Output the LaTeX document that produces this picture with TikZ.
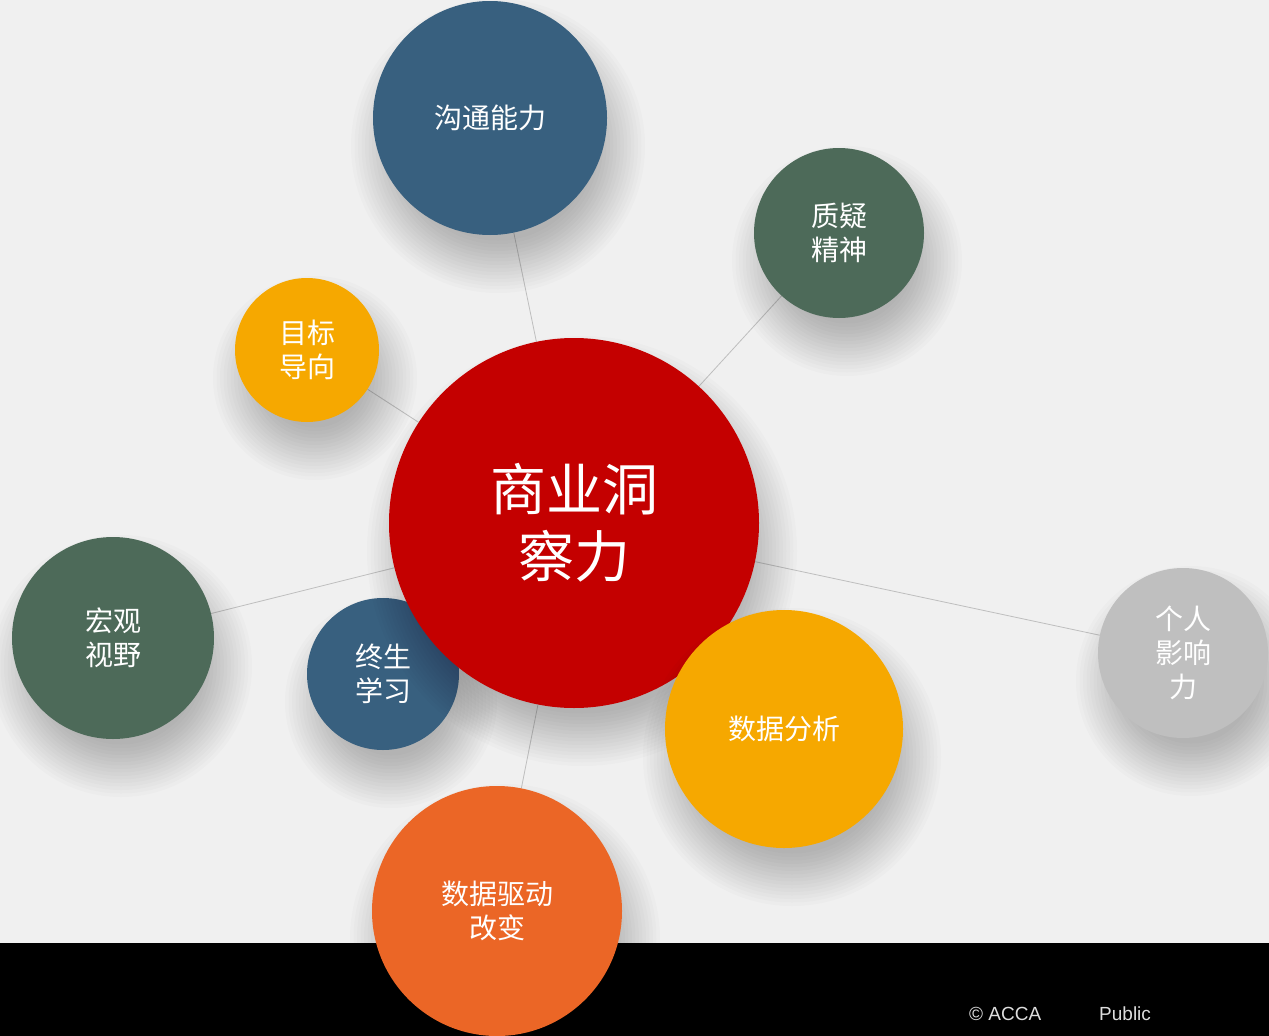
\documentclass[tikz,border=0pt]{standalone}
\usepackage{fontspec}
\setmainfont{Liberation Sans}
\newfontfamily\cjk{Noto Sans CJK SC}
\pgfdeclarelayer{bg}
\pgfsetlayers{bg,main}
\definecolor{bgc}{HTML}{F0F0F0}
\definecolor{linec}{HTML}{BEBEBE}
\definecolor{cblue}{HTML}{38607F}
\definecolor{cgreen}{HTML}{4D6A59}
\definecolor{corange}{HTML}{F6A800}
\definecolor{cred}{HTML}{C40000}
\definecolor{cdeep}{HTML}{EB6626}
\definecolor{cgrey}{HTML}{BFBFBF}
\definecolor{footc}{HTML}{DDDDDD}
\newcommand\softshadow[3]{%
  \foreach \k in {0,...,15}{%
    \fill[black, fill opacity=0.017] (#1+8,#2+28) circle[radius=#3+30-\k*3.5];}}
\begin{document}
\begin{tikzpicture}[x=1pt,y=-1pt,
  bubble/.style={circle, inner sep=0pt, text=white, align=center,
    font=\cjk\fontsize{28}{34}\selectfont},
  link/.style={draw=linec, line width=0.8pt},
  foot/.style={text=footc, font=\fontsize{19}{22}\selectfont, anchor=base west, inner sep=0pt}]
\useasboundingbox (0,0) rectangle (1269,1036);
\begin{pgfonlayer}{bg}
\fill[bgc] (0,0) rectangle (1269,1036);
\fill[black] (0,943) rectangle (1269,1036);
\end{pgfonlayer}
% bubbles
\softshadow{490}{118}{117}
\node[bubble, fill=cblue, minimum size=234pt] (comm) at (490,118) {沟通能力};
\softshadow{839}{233}{85}
\node[bubble, fill=cgreen, minimum size=170pt] (quest) at (839,233) {质疑\\精神};
\softshadow{307}{350}{72}
\node[bubble, fill=corange, minimum size=144pt] (goal) at (307,350) {目标\\导向};
\softshadow{113}{638}{101}
\node[bubble, fill=cgreen, minimum size=202pt] (macro) at (113,638) {宏观\\视野};
\softshadow{383}{674}{76}
\node[bubble, fill=cblue, minimum size=152pt] (learn) at (383,674) {终生\\学习};
\softshadow{1183}{653}{85}
\node[bubble, fill=cgrey, minimum size=170pt] (infl) at (1183,653) {个人\\影响\\力};
\softshadow{574}{523}{185}
\node[bubble, fill=cred, minimum size=370pt, font=\cjk\fontsize{56}{67}\selectfont] (hub) at (574,523) {商业洞\\察力};
\softshadow{784}{729}{119}
\node[bubble, fill=corange, minimum size=238pt] (data) at (784,729) {数据分析};
\softshadow{497}{911}{125}
\node[bubble, fill=cdeep, minimum size=250pt] (drive) at (497,911) {数据驱动\\改变};
% connectors
\begin{pgfonlayer}{bg}
\draw[link] (hub) -- (comm);
\draw[link] (hub) -- (quest);
\draw[link] (hub) -- (goal);
\draw[link] (hub) -- (macro);
\draw[link] (hub) -- (infl);
\draw[link] (hub) -- (drive);
\end{pgfonlayer}
% footer
\node[foot] (copy) at (969,1020) {© ACCA};
\node[foot] (pub) at (1099,1020) {Public};
\end{tikzpicture}
\end{document}
